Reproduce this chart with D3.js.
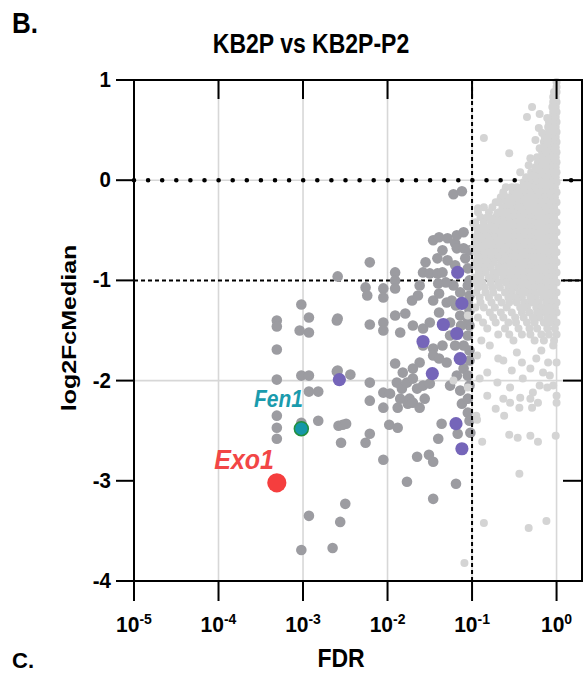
<!DOCTYPE html>
<html><head><meta charset="utf-8">
<script src="https://cdn.jsdelivr.net/npm/d3@7"></script>
<style>body{margin:0;background:#fff}svg{display:block}</style>
</head><body>
<svg id="c" width="587" height="676"></svg>
<script>
// ---- data (x values stored as log10(FDR), y = log2FcMedian) ----
const xTickExps = [-5, -4, -3, -2, -1, 0];
const yTicks = [1, 0, -1, -2, -3, -4];
const gridY = [0, -2];
const fdrCut = 0.1;
const fcCutDotted = 0;
const fcCutDashed = -1;

// dense non-significant cloud, grouped by log2Fc row: [log2Fc, [log10FDR ...]]
const lightRows = [
[0.98,[0]],[0.93,[0.0]],[0.88,[0,-0.03]],[0.83,[-0.01,-0.04]],[0.78,[0,-0.04]],
[0.73,[-0.01,-0.05]],[0.68,[0,-0.04]],[0.63,[-0.01,-0.05]],[0.58,[0,-0.05,-0.09]],
[0.53,[-0.01,-0.05,-0.1]],[0.48,[0,-0.04,-0.09]],[0.43,[-0.01,-0.06,-0.1,-0.14]],
[0.38,[0,-0.05,-0.1,-0.15]],[0.33,[-0.01,-0.06,-0.11,-0.15]],[0.28,[0,-0.05,-0.11,-0.17]],
[0.23,[-0.01,-0.06,-0.12,-0.18,-0.23]],[0.18,[0,-0.05,-0.11,-0.17,-0.22]],
[0.13,[-0.01,-0.06,-0.12,-0.19,-0.25]],[0.08,[0,-0.06,-0.12,-0.18,-0.24,-0.3]],
[0.03,[-0.01,-0.05,-0.11,-0.17,-0.23,-0.29,-0.36]],[-0.02,[0,-0.06,-0.12,-0.19,-0.26,-0.32,-0.39]],
[-0.07,[-0.02,-0.08,-0.14,-0.21,-0.28,-0.34,-0.4,-0.47,-0.6]],[-0.12,[0,-0.06,-0.12,-0.19,-0.26,-0.32,-0.38,-0.45,-0.52]],
[-0.17,[-0.02,-0.09,-0.15,-0.22,-0.29,-0.36,-0.43,-0.5,-0.58,-0.66]],
[-0.22,[0,-0.06,-0.12,-0.19,-0.26,-0.33,-0.4,-0.46,-0.53,-0.6,-0.72]],
[-0.27,[-0.03,-0.09,-0.16,-0.23,-0.3,-0.37,-0.44,-0.5,-0.57,-0.64,-0.76,-0.86]],
[-0.32,[0,-0.06,-0.13,-0.2,-0.27,-0.34,-0.41,-0.48,-0.54,-0.61,-0.68,-0.8,-0.93]],
[-0.37,[-0.03,-0.1,-0.17,-0.24,-0.31,-0.38,-0.45,-0.52,-0.58,-0.65,-0.72,-0.82,-0.9]],
[-0.42,[0,-0.07,-0.14,-0.21,-0.28,-0.35,-0.42,-0.49,-0.56,-0.62,-0.69,-0.77,-0.86,-0.96]],
[-0.47,[-0.03,-0.1,-0.17,-0.24,-0.31,-0.38,-0.45,-0.52,-0.59,-0.66,-0.73,-0.8,-0.88,-0.95]],
[-0.52,[0,-0.07,-0.14,-0.21,-0.28,-0.35,-0.42,-0.49,-0.56,-0.63,-0.7,-0.78,-0.86,-0.93]],
[-0.57,[-0.03,-0.1,-0.17,-0.24,-0.31,-0.38,-0.45,-0.52,-0.59,-0.66,-0.74,-0.82,-0.9,-0.97]],
[-0.62,[0,-0.07,-0.14,-0.21,-0.28,-0.35,-0.42,-0.49,-0.56,-0.63,-0.71,-0.79,-0.87,-0.94]],
[-0.67,[-0.03,-0.1,-0.17,-0.24,-0.31,-0.38,-0.45,-0.52,-0.6,-0.68,-0.76,-0.84,-0.91,-0.98]],
[-0.72,[0,-0.07,-0.14,-0.21,-0.28,-0.35,-0.42,-0.5,-0.57,-0.65,-0.73,-0.81,-0.88,-0.95]],
[-0.77,[-0.03,-0.1,-0.17,-0.24,-0.32,-0.39,-0.46,-0.54,-0.62,-0.7,-0.78,-0.86,-0.93]],
[-0.82,[0,-0.07,-0.14,-0.2,-0.27,-0.35,-0.42,-0.5,-0.58,-0.65,-0.74,-0.82,-0.9,-0.97]],
[-0.87,[-0.03,-0.1,-0.17,-0.25,-0.31,-0.38,-0.46,-0.53,-0.61,-0.69,-0.78,-0.86,-0.94]],
[-0.92,[0,-0.06,-0.13,-0.21,-0.28,-0.35,-0.43,-0.51,-0.59,-0.66,-0.75,-0.84,-0.92]],
[-0.97,[-0.03,-0.1,-0.18,-0.25,-0.32,-0.4,-0.47,-0.55,-0.63,-0.72,-0.8,-0.9,-0.97]],
[-1.02,[0,-0.07,-0.14,-0.22,-0.29,-0.37,-0.44,-0.52,-0.6,-0.69,-0.78,-0.88,-0.96]],
[-1.07,[-0.04,-0.11,-0.18,-0.26,-0.33,-0.41,-0.5,-0.57,-0.67,-0.76,-0.85,-0.93]],
[-1.12,[0,-0.05,-0.13,-0.19,-0.27,-0.36,-0.44,-0.53,-0.61,-0.75,-0.84,-0.95]],
[-1.17,[-0.03,-0.09,-0.16,-0.25,-0.31,-0.41,-0.49,-0.57,-0.69,-0.8,-0.91]],
[-1.22,[0,-0.07,-0.12,-0.21,-0.3,-0.38,-0.47,-0.56,-0.65,-0.77,-0.9]],
[-1.27,[-0.02,-0.1,-0.18,-0.24,-0.35,-0.43,-0.59,-0.73,-0.86,-0.96]],
[-1.32,[0,-0.06,-0.14,-0.23,-0.32,-0.41,-0.53,-0.66,-0.79]],
[-1.37,[-0.04,-0.11,-0.2,-0.28,-0.39,-0.49,-0.63,-0.75,-0.93]],
[-1.42,[0,-0.08,-0.15,-0.26,-0.35,-0.48,-0.57,-0.72,-0.87]],
[-1.48,[-0.02,-0.11,-0.23,-0.32,-0.45,-0.61,-0.82]],
[-1.54,[0,-0.09,-0.18,-0.31,-0.41,-0.56,-0.69]],
[-1.60,[-0.03,-0.15,-0.26,-0.51,-0.89]]
];
// scattered non-significant points: [log10FDR, log2Fc]
const lightScatter = [
[-0.29,0.73],[-0.35,0.63],[-0.20,0.66],[-0.11,0.62],[-0.21,0.52],[-0.17,0.47],[-0.25,0.40],
[-0.11,0.40],[-0.20,0.32],[-0.86,0.42],[-0.56,0.27],[-0.31,0.22],[-0.33,0.15],[-0.16,0.20],
[-0.43,0.08],[-0.28,0.05],[-0.35,-0.05],[-0.53,-0.07],[-0.63,-0.12],[-0.69,-0.22],[-0.53,-0.22],
[-0.43,-0.27],[-0.93,-0.28],[-0.79,-0.38],[-0.70,-0.33],[-0.63,-0.42],[-0.55,-0.43],[-0.41,-0.40],
[-0.88,-0.48],[-0.75,-0.48],[-0.99,-0.43],
[-0.94,-1.75],[-0.79,-1.65],[-0.69,-1.78],[-0.63,-1.80],[-0.47,-1.72],[-0.41,-1.82],[-0.31,-1.88],
[-0.16,-1.92],[-0.08,-1.95],[0,-1.82],[-0.82,-1.92],[-0.91,-1.98],[-0.70,-2.02],[-0.55,-2.07],
[-0.40,-1.98],[-0.28,-2.12],[-0.11,-2.07],[0,-2.15],[-0.82,-2.15],[-0.63,-2.18],[-0.43,-2.17],
[-0.31,-2.18],[-0.55,-2.22],[0,-2.22],[-0.95,-2.35],[-0.94,-2.39],[-0.88,-2.61],[-0.72,-2.28],
[-0.62,-2.35],[-0.44,-2.27],[-0.29,-2.27],[-0.22,-2.22],[-0.56,-2.54],[-0.46,-2.57],[-0.31,-2.55],
[-0.22,-2.61],[-0.01,-2.55],[-0.44,-2.93],[-0.86,-3.42],[-0.33,-3.47],[-0.12,-3.40],[-1.09,-3.82],
[-1.05,-1.35],[-1.22,-2.00],[-1.05,-2.07],[-0.18,-1.70],[-0.04,-1.65],[-0.24,-1.78],[-0.53,-1.90],
[-0.10,-1.82],[-0.04,-2.05],[-0.20,-2.05]
];
// significant (FDR < 0.1) points: [log10FDR, log2Fc]
const darkPts = [
[-3.31,-1.40],[-3.31,-1.46],[-3.31,-1.69],[-3.31,-1.99],[-3.31,-2.35],[-3.31,-2.47],[-3.31,-2.58],
[-3.02,-1.24],[-3.04,-1.50],[-3.02,-1.95],[-3.02,-2.42],[-3.02,-3.69],
[-2.93,-1.37],[-2.93,-1.52],[-2.93,-1.95],[-2.93,-2.11],[-2.93,-3.35],
[-2.82,-2.11],[-2.82,-2.40],[-2.60,-1.91],[-2.60,-1.40],[-2.58,-2.45],[-2.65,-3.67],[-2.56,-3.41],[-2.50,-3.23],
[-2.55,-2.62],[-2.53,-2.44],[-2.49,-2.43],[-2.59,-0.96],[-2.59,-1.38],[-2.59,-1.90],[-2.44,-1.94],
[-2.26,-1.07],[-2.24,-1.15],[-2.21,-0.82],[-2.21,-1.44],[-2.21,-2.02],[-2.21,-2.20],[-2.26,-2.62],[-2.21,-2.53],
[-2.05,-1.08],[-2.05,-1.17],[-2.05,-1.42],[-2.05,-1.50],[-2.05,-2.12],[-2.05,-2.27],[-2.05,-2.79],
[-1.97,-2.13],[-1.98,-2.44],[-1.91,-0.92],[-1.91,-1.00],[-1.91,-1.08],[-1.91,-1.35],[-1.91,-1.83],
[-1.89,-2.02],[-1.88,-2.27],[-1.88,-2.47],[-1.85,-1.52],[-1.85,-2.18],[-1.83,-2.08],[-1.82,-1.92],
[-1.79,-1.33],[-1.77,-2.02],[-1.77,-3.01],[-1.76,-2.23],[-1.74,-2.18],[-1.71,-1.20],[-1.70,-1.45],
[-1.70,-1.88],[-1.70,-1.98],[-1.70,-2.22],[-1.65,-2.08],[-1.65,-2.76],[-1.64,-1.15],[-1.62,-1.05],
[-1.62,-1.82],[-1.62,-2.27],[-1.58,-0.92],[-1.58,-1.48],[-1.58,-1.65],[-1.58,-2.05],[-1.56,-2.18],
[-1.51,-2.74],[-1.50,-0.93],[-1.50,-1.42],[-1.50,-2.03],[-1.46,-0.60],[-1.46,-1.20],[-1.46,-1.68],
[-1.46,-1.75],[-1.46,-2.81],[-1.46,-3.18],[-1.41,-0.78],[-1.41,-0.93],[-1.40,-2.58],[-1.39,-0.57],
[-1.39,-1.13],[-1.39,-1.32],[-1.39,-1.78],[-1.36,-2.43],[-1.35,-0.70],[-1.35,-0.92],[-1.35,-1.65],
[-1.30,-1.22],[-1.30,-1.82],[-1.29,-0.58],[-1.26,-1.42],[-1.26,-1.55],[-1.26,-2.05],[-1.22,-0.14],
[-1.22,-1.05],[-1.20,-0.63],[-1.19,-3.03],[-1.18,-0.55],[-1.18,-0.68],[-1.18,-1.95],[-1.17,-2.53],
[-1.14,-1.12],[-1.14,-1.35],[-1.14,-2.10],[-1.12,-0.11],[-1.12,-2.23],[-1.10,-0.52],[-1.10,-0.68],
[-1.10,-1.65],[-1.10,-1.88],[-1.08,-0.78],[-1.05,-0.88],[-1.05,-1.05],[-1.05,-1.22],[-1.05,-1.38],
[-1.05,-1.55],[-1.05,-1.95],[-1.05,-2.18],[-1.05,-2.32],[-1.02,-2.52],
[-1.03,-0.70],[-1.03,-1.00],[-1.03,-1.15],[-1.03,-1.30],[-1.03,-1.45],[-1.03,-1.70],[-1.03,-1.80],
[-1.03,-2.05],[-1.03,-2.40],[-1.13,-1.45],[-1.19,-1.25],[-1.20,-1.65],[-1.24,-1.20],[-1.31,-1.02],
[-1.40,-1.03],[-1.20,-0.85],[-1.29,-0.80],[-1.55,-0.82]
];
// highlighted genes (purple): [log10FDR, log2Fc]
const purplePts = [
[-1.17,-0.92],[-1.12,-1.23],[-1.34,-1.44],[-1.18,-1.53],[-1.58,-1.61],
[-1.14,-1.78],[-1.47,-1.93],[-2.57,-1.99],[-1.19,-2.43],[-1.12,-2.68]
];
const labelledGenes = ["Fen1", "Exo1"];
const labelledLog10FDR = [-3.02, -3.31];
const labelledFc = [-2.48, -3.02];

// ---- drawing ----
const svg = d3.select("#c");
const FONT = "'Liberation Sans', Arial, Helvetica, sans-serif";
const x = d3.scaleLog().domain([1e-5, 2]).range([134, 582]);
const y = d3.scaleLinear().domain([-4, 1]).range([581, 80]);
const fdr = lg => Math.pow(10, lg);
const [x0, x1] = x.range(), [y0, y1] = y.range();

// grid
svg.append("g").selectAll("line").data(xTickExps.filter(e => e > -5)).join("line")
  .attr("x1", e => x(fdr(e))).attr("x2", e => x(fdr(e))).attr("y1", y1).attr("y2", y0)
  .attr("stroke", "#d7d7d7").attr("stroke-width", 1.6);
svg.append("g").selectAll("line").data(gridY).join("line")
  .attr("x1", x0).attr("x2", x1).attr("y1", d => y(d)).attr("y2", d => y(d))
  .attr("stroke", "#d7d7d7").attr("stroke-width", 1.6);

// reference lines
svg.append("line").attr("x1", x0).attr("x2", x1).attr("y1", y(fcCutDotted)).attr("y2", y(fcCutDotted))
  .attr("stroke", "#000").attr("stroke-width", 4.6).attr("stroke-linecap", "round")
  .attr("stroke-dasharray", "0 14.1");
svg.append("line").attr("x1", x0).attr("x2", x1).attr("y1", y(fcCutDashed)).attr("y2", y(fcCutDashed))
  .attr("stroke", "#000").attr("stroke-width", 2).attr("stroke-dasharray", "4 3");

// points
svg.append("g").selectAll("circle").data(darkPts).join("circle")
  .attr("cx", d => x(fdr(d[0]))).attr("cy", d => y(d[1])).attr("r", 5.3).attr("fill", "#9c9ca1");
svg.append("g").selectAll("circle").data(purplePts).join("circle")
  .attr("cx", d => x(fdr(d[0]))).attr("cy", d => y(d[1])).attr("r", 6.6).attr("fill", "#7565b9");
const lightPts = lightRows.flatMap(([fc, lgs]) => lgs.map(lg => [lg, fc])).concat(lightScatter);
svg.append("g").selectAll("circle").data(lightPts).join("circle")
  .attr("cx", d => x(fdr(d[0]))).attr("cy", d => y(d[1])).attr("r", 4.0).attr("fill", "#d4d4d4");

svg.append("line").attr("x1", x(fdrCut)).attr("x2", x(fdrCut)).attr("y1", y1).attr("y2", y0)
  .attr("stroke", "#000").attr("stroke-width", 2).attr("stroke-dasharray", "4 3");

// labelled genes
svg.append("circle").attr("cx", x(fdr(labelledLog10FDR[0]))).attr("cy", y(labelledFc[0])).attr("r", 7)
  .attr("fill", "#1597a8").attr("stroke", "#22903f").attr("stroke-width", 1.5);
svg.append("circle").attr("cx", x(fdr(labelledLog10FDR[1]))).attr("cy", y(labelledFc[1])).attr("r", 9.6)
  .attr("fill", "#f53e3e");

function txt(px, py, str, size, sy, anchor, fill, extra) {
  const t = svg.append("text")
    .attr("transform", `translate(${px},${py}) scale(1,${sy})` + (extra || ""))
    .attr("font-family", FONT).attr("font-weight", "bold").attr("font-size", size)
    .attr("text-anchor", anchor).attr("fill", fill || "#000").text(str);
  return t;
}
txt(303, 407, labelledGenes[0], 21, 1.1, "end", "#1a9bad").attr("font-style", "italic");
txt(274, 469, labelledGenes[1], 25, 1.08, "end", "#f24646").attr("font-style", "italic");

// axes
function styleAxis(g) {
  g.selectAll("path,line").attr("stroke", "#000").attr("stroke-width", 2);
  g.select(".domain").attr("stroke-linecap", "square");
}
const xt = xTickExps.map(fdr);
svg.append("g").attr("transform", `translate(0,${y0})`)
  .call(d3.axisBottom(x).tickValues(xt).tickSize(20).tickSizeOuter(0).tickFormat("").offset(0)).call(styleAxis);
svg.append("g").attr("transform", `translate(0,${y1})`)
  .call(d3.axisBottom(x).tickValues(xt).tickSize(19).tickSizeOuter(0).tickFormat("").offset(0)).call(styleAxis);
svg.append("g").attr("transform", `translate(${x0},0)`)
  .call(d3.axisLeft(y).tickValues(yTicks).tickSize(18).tickSizeOuter(0).tickFormat("").offset(0)).call(styleAxis);
svg.append("g").attr("transform", `translate(${x1},0)`)
  .call(d3.axisLeft(y).tickValues(yTicks).tickSize(19).tickSizeOuter(0).tickFormat("").offset(0)).call(styleAxis);

// tick labels
xTickExps.forEach(e => {
  const t = txt(x(fdr(e)), 632, "", 21, 1.05, "middle");
  t.append("tspan").text("10");
  t.append("tspan").attr("font-size", 14).attr("dy", -7.5).text(String(e));
});
yTicks.forEach(v => { txt(111, y(v) + 7, String(v), 20.5, 1.05, "end"); });

// titles
txt(12, 33, "B.", 26, 1.15, "start");
txt(311, 53, "KB2P vs KB2P-P2", 23, 1.18, "middle");
txt(341, 667, "FDR", 23, 1.1, "middle");
txt(12, 668, "C.", 22, 1.0, "start");
txt(76, 328, "log2FcMedian", 20, 1.25, "middle", "#000", " rotate(-90)");
</script>
</body></html>
